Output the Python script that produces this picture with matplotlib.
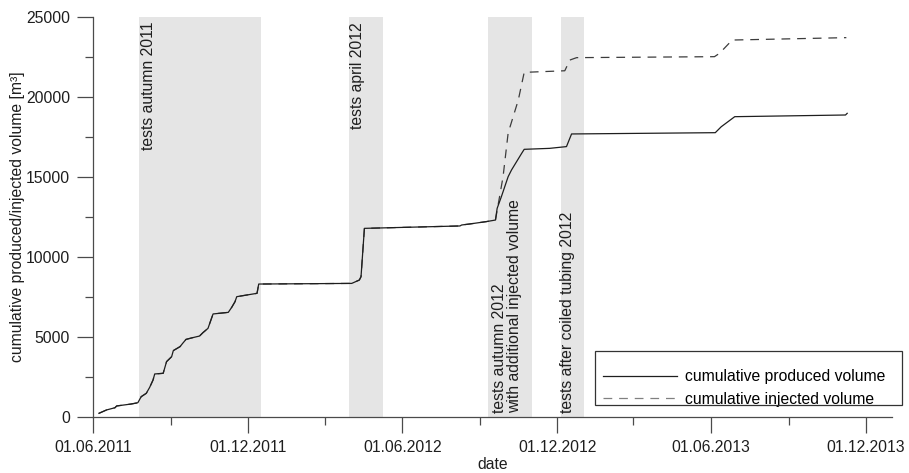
import matplotlib
matplotlib.use('Agg')
import matplotlib.pyplot as plt
import matplotlib.dates as mdates
from matplotlib.ticker import MultipleLocator
from matplotlib.patches import Rectangle
import pandas as pd

plt.rcParams['font.family'] = ['Liberation Sans', 'DejaVu Sans']

# ---- data ----
prod_dates = ["2011-06-08", "2011-06-17", "2011-06-27", "2011-06-29", "2011-07-16",
              "2011-07-24", "2011-07-28", "2011-08-03", "2011-08-07", "2011-08-11",
              "2011-08-13", "2011-08-23", "2011-08-27", "2011-09-02", "2011-09-04",
              "2011-09-12", "2011-09-15", "2011-09-19", "2011-09-27", "2011-10-05",
              "2011-10-09", "2011-10-15", "2011-10-21", "2011-11-08", "2011-11-12",
              "2011-11-16", "2011-11-18", "2011-12-12", "2011-12-14", "2012-04-02",
              "2012-04-11", "2012-04-13", "2012-04-17", "2012-08-08", "2012-08-10",
              "2012-08-19", "2012-09-08", "2012-09-19", "2012-09-21", "2012-09-26",
              "2012-10-04", "2012-10-08", "2012-10-14", "2012-10-20", "2012-10-23",
              "2012-11-22", "2012-12-12", "2012-12-18", "2013-06-06", "2013-06-13",
              "2013-06-29", "2013-11-07", "2013-11-09"]
prod_values = [230, 440, 580, 690, 810,
               890, 1270, 1480, 1850, 2310,
               2690, 2730, 3460, 3770, 4150,
               4400, 4600, 4850, 4960, 5060,
               5270, 5540, 6440, 6540, 6850,
               7210, 7520, 7730, 8310, 8350,
               8560, 8770, 11790, 11940, 12000,
               12060, 12210, 12310, 13040, 13770,
               15020, 15440, 15960, 16480, 16730,
               16790, 16900, 17690, 17770, 18140,
               18770, 18875, 18980]

# injected volume equals produced volume until 2012-09-19, then:
inj_split_date = "2012-09-19"
inj_tail_dates = ["2012-09-28", "2012-10-04", "2012-10-16", "2012-10-23", "2012-12-10",
                  "2012-12-16", "2012-12-24", "2013-06-05", "2013-06-11", "2013-06-26",
                  "2013-11-08"]
inj_tail_values = [15020, 17750, 19810, 21540, 21640,
                   22310, 22460, 22520, 22730, 23560,
                   23710]

span_starts = ["2011-07-25", "2012-03-30", "2012-09-10", "2012-12-06"]
span_ends = ["2011-12-17", "2012-05-09", "2012-11-01", "2013-01-02"]
span_labels = ["tests autumn 2011", "tests april 2012",
               "tests autumn 2012\nwith additional injected volume",
               "tests after coiled tubing 2012"]
span_label_pos = ["top", "top", "bottom", "bottom"]

x_start, x_end = "2011-06-01", "2014-01-01"
y_min, y_max = 0, 25000

# ---- build series ----
pd_dates = pd.to_datetime(prod_dates)
split = pd.Timestamp(inj_split_date)
head_mask = pd_dates <= split
inj_dates = list(pd_dates[head_mask]) + list(pd.to_datetime(inj_tail_dates))
inj_values = [v for v, m in zip(prod_values, head_mask) if m] + inj_tail_values

FS = 11.3
TXT = '#1e1e1e'
AXC = '#4a4a4a'

# ---- figure ----
fig = plt.figure(figsize=(9.09, 4.73), dpi=100)
ax = fig.add_axes([93 / 909, 56 / 473, 799 / 909, 400 / 473])

for s, e in zip(span_starts, span_ends):
    ax.axvspan(pd.Timestamp(s), pd.Timestamp(e), color='#e5e5e5', lw=0, zorder=0)

lp, = ax.plot(pd_dates, prod_values, color='#1e1e1e', lw=0.9, zorder=3,
              label='cumulative produced volume')
li, = ax.plot(inj_dates, inj_values, color='#3c3c3c', lw=0.9, zorder=2,
              dashes=(7, 5.5), label='cumulative injected volume')

offsets = [7.0, 5.8, 14.0, 4.6]
for s, lab, pos, off in zip(span_starts, span_labels, span_label_pos, offsets):
    if pos == "top":
        ax.annotate(lab, xy=(pd.Timestamp(s), 1), xycoords=('data', 'axes fraction'),
                    xytext=(off, -3.6), textcoords='offset points', rotation=90,
                    ha='center', va='top', fontsize=FS, color=TXT)
    else:
        ax.annotate(lab, xy=(pd.Timestamp(s), 0), xycoords=('data', 'axes fraction'),
                    xytext=(off, 3.0), textcoords='offset points', rotation=90,
                    ha='center', va='bottom', fontsize=FS, color=TXT,
                    multialignment='left', linespacing=1.02)

ax.set_xlim(pd.Timestamp(x_start), pd.Timestamp(x_end))
ax.set_ylim(y_min, y_max)

ax.xaxis.set_major_locator(mdates.MonthLocator(bymonth=[6, 12]))
ax.xaxis.set_minor_locator(mdates.MonthLocator(bymonth=[3, 9]))
ax.xaxis.set_major_formatter(mdates.DateFormatter('%d.%m.%Y'))
ax.yaxis.set_major_locator(MultipleLocator(5000))
ax.yaxis.set_minor_locator(MultipleLocator(2500))

for sp in ['top', 'right']:
    ax.spines[sp].set_visible(False)
for sp in ['left', 'bottom']:
    ax.spines[sp].set_color(AXC)
    ax.spines[sp].set_linewidth(0.9)

ax.tick_params(which='major', direction='out', length=11.5, width=0.9,
               color=AXC, labelsize=FS, labelcolor=TXT, pad=5)
ax.tick_params(which='minor', direction='out', length=5.8, width=0.9, color=AXC)

ax.set_xlabel('date', fontsize=FS, color=TXT, labelpad=1.5)
ax.set_ylabel('cumulative produced/injected volume [m³]', fontsize=FS,
              color=TXT, labelpad=0.8)

leg = ax.legend(handles=[lp, li], loc='upper left',
                bbox_to_anchor=(603 / 909, 1 - 369 / 473), bbox_transform=fig.transFigure,
                borderaxespad=0, frameon=False, fontsize=FS, handlelength=4.7,
                handletextpad=0.5, borderpad=0, labelspacing=0.5)
leg.legend_handles[1].set_color('#808080')
fig.add_artist(Rectangle((595 / 909, 1 - 405 / 473), 307 / 909, 54 / 473,
                         transform=fig.transFigure, fill=False, edgecolor='#333333',
                         lw=0.9, zorder=5))

fig.savefig('out.png', dpi=100)
